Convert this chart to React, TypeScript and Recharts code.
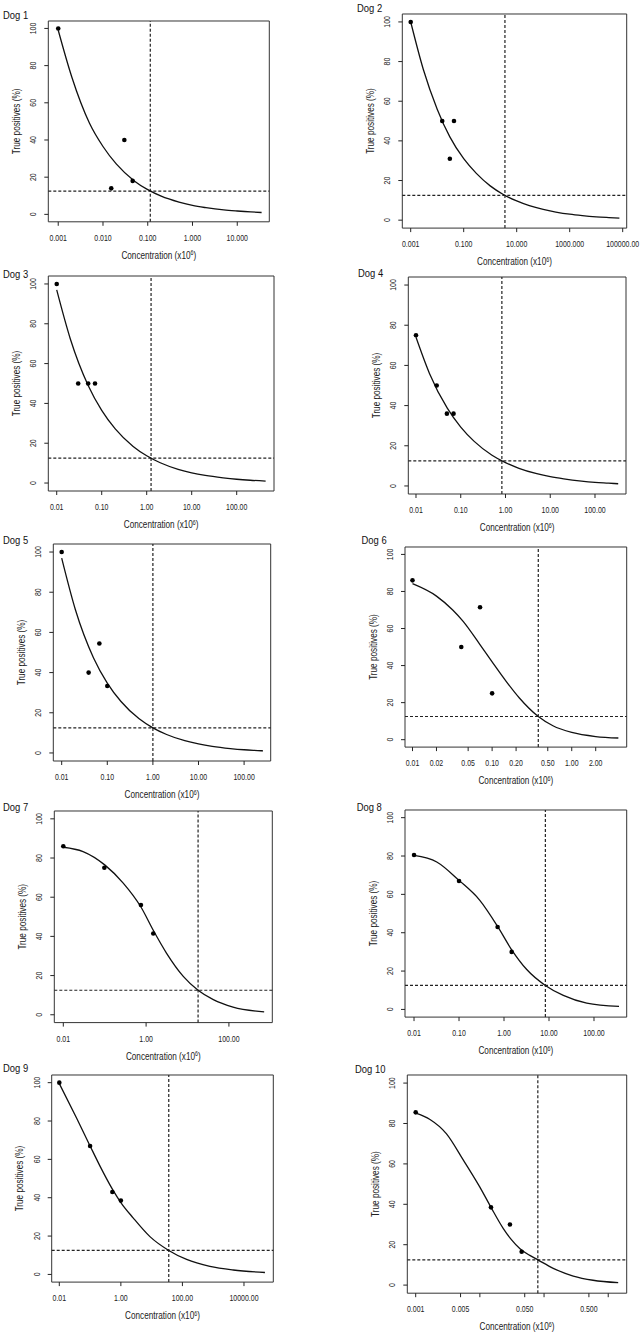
import React from 'react'
import {
  ComposedChart,
  Line,
  Scatter,
  XAxis,
  YAxis,
  ReferenceLine,
  ReferenceArea,
  Label,
} from 'recharts'

// ---- data ----
const yTicks = [0, 20, 40, 60, 80, 100]
const threshold = 12.5

const dog1Curve = [
  { x: 0.001, y: 99 }, { x: 0.002, y: 74 }, { x: 0.005, y: 49 }, { x: 0.01, y: 36.5 },
  { x: 0.02, y: 27 }, { x: 0.05, y: 18 }, { x: 0.1, y: 13.3 }, { x: 0.2, y: 9.8 },
  { x: 0.5, y: 6.6 }, { x: 1, y: 4.8 }, { x: 2, y: 3.6 }, { x: 5, y: 2.4 },
  { x: 10, y: 1.8 }, { x: 20, y: 1.3 }, { x: 35, y: 1.0 },
]
const dog1Points = [{ x: 0.001, y: 100 }, { x: 0.0153, y: 14 }, { x: 0.03, y: 40 }, { x: 0.046, y: 18 }]
const dog1Ticks = [0.001, 0.01, 0.1, 1, 10]
const dog1Labels = ['0.001', '0.010', '0.100', '1.000', '10.000']

const dog2Curve = [
  { x: 0.001, y: 100 }, { x: 0.003, y: 76 }, { x: 0.01, y: 56 }, { x: 0.03, y: 42 },
  { x: 0.1, y: 31 }, { x: 0.3, y: 23.6 }, { x: 1, y: 17.3 }, { x: 3, y: 13.1 },
  { x: 10, y: 9.7 }, { x: 30, y: 7.3 }, { x: 100, y: 5.4 }, { x: 300, y: 4.1 },
  { x: 1000, y: 3.0 }, { x: 3000, y: 2.3 }, { x: 10000, y: 1.7 }, { x: 30000, y: 1.3 },
  { x: 75000, y: 1.0 },
]
const dog2Points = [{ x: 0.001, y: 100 }, { x: 0.0155, y: 50 }, { x: 0.03, y: 31 }, { x: 0.043, y: 50 }]
const dog2Ticks = [0.001, 0.1, 10, 1000, 100000]
const dog2Labels = ['0.001', '0.100', '10.000', '1000.000', '100000.00']

const dog3Curve = [
  { x: 0.01, y: 97 }, { x: 0.02, y: 72.5 }, { x: 0.05, y: 49 }, { x: 0.1, y: 36.5 },
  { x: 0.2, y: 27.2 }, { x: 0.5, y: 18.4 }, { x: 1, y: 13.7 }, { x: 2, y: 10.2 },
  { x: 5, y: 6.9 }, { x: 10, y: 5.1 }, { x: 20, y: 3.8 }, { x: 50, y: 2.6 },
  { x: 100, y: 1.9 }, { x: 200, y: 1.4 }, { x: 440, y: 1.0 },
]
const dog3Points = [{ x: 0.01, y: 100 }, { x: 0.03, y: 50 }, { x: 0.05, y: 50 }, { x: 0.071, y: 50 }]
const decadeTicks = [0.01, 0.1, 1, 10, 100]
const decadeLabels = ['0.01', '0.10', '1.00', '10.00', '100.00']

const dog4Curve = [
  { x: 0.01, y: 74 }, { x: 0.02, y: 56 }, { x: 0.05, y: 38.7 }, { x: 0.1, y: 29.3 },
  { x: 0.2, y: 22.2 }, { x: 0.5, y: 15.3 }, { x: 1, y: 11.6 }, { x: 2, y: 8.8 },
  { x: 5, y: 6.1 }, { x: 10, y: 4.6 }, { x: 20, y: 3.5 }, { x: 50, y: 2.4 },
  { x: 100, y: 1.8 }, { x: 200, y: 1.4 }, { x: 330, y: 1.1 },
]
const dog4Points = [{ x: 0.01, y: 75 }, { x: 0.029, y: 50 }, { x: 0.049, y: 36 }, { x: 0.069, y: 36 }]

const dog5Curve = [
  { x: 0.01, y: 97 }, { x: 0.02, y: 71.3 }, { x: 0.05, y: 47.3 }, { x: 0.1, y: 34.8 },
  { x: 0.2, y: 25.6 }, { x: 0.5, y: 17 }, { x: 1, y: 12.5 }, { x: 2, y: 9.2 },
  { x: 5, y: 6.1 }, { x: 10, y: 4.5 }, { x: 20, y: 3.3 }, { x: 50, y: 2.2 },
  { x: 100, y: 1.6 }, { x: 200, y: 1.2 }, { x: 260, y: 1.05 },
]
const dog5Points = [{ x: 0.01, y: 100 }, { x: 0.039, y: 40 }, { x: 0.067, y: 54.5 }, { x: 0.1, y: 33.3 }]

const dog6Curve = [
  { x: 0.01, y: 84.2 }, { x: 0.02, y: 77.5 }, { x: 0.032, y: 70 }, { x: 0.043, y: 64 },
  { x: 0.07, y: 51.5 }, { x: 0.1, y: 42 }, { x: 0.15, y: 31.5 }, { x: 0.22, y: 22.5 },
  { x: 0.38, y: 12.5 }, { x: 0.58, y: 7.5 }, { x: 1, y: 3.9 }, { x: 2, y: 1.7 },
  { x: 3.85, y: 0.9 },
]
const dog6Points = [{ x: 0.01, y: 86 }, { x: 0.041, y: 50 }, { x: 0.0705, y: 71.5 }, { x: 0.1, y: 25 }]
const dog6Ticks = [0.01, 0.02, 0.05, 0.1, 0.2, 0.5, 1, 2]
const dog6Labels = ['0.01', '0.02', '0.05', '0.10', '0.20', '0.50', '1.00', '2.00']

const dog7Curve = [
  { x: 0.01, y: 85.5 }, { x: 0.03, y: 83.3 }, { x: 0.1, y: 76.5 }, { x: 0.28, y: 67.2 },
  { x: 0.75, y: 55 }, { x: 1.5, y: 43 }, { x: 3.1, y: 31.5 }, { x: 7.9, y: 19.6 },
  { x: 18, y: 12.5 }, { x: 42, y: 7.7 }, { x: 126, y: 3.9 }, { x: 710, y: 1.5 },
]
const dog7Points = [{ x: 0.01, y: 86 }, { x: 0.098, y: 75 }, { x: 0.75, y: 56 }, { x: 1.49, y: 41.5 }]
const dog7Ticks = [0.01, 1, 100]
const dog7Labels = ['0.01', '1.00', '100.00']

const dog8Curve = [
  { x: 0.01, y: 80.3 }, { x: 0.032, y: 76.9 }, { x: 0.1, y: 67.3 }, { x: 0.29, y: 56.9 },
  { x: 0.72, y: 43.3 }, { x: 1.48, y: 31.1 }, { x: 3.2, y: 20.8 }, { x: 8.3, y: 12.5 },
  { x: 20.8, y: 7.3 }, { x: 69, y: 3.3 }, { x: 360, y: 1.6 },
]
const dog8Points = [{ x: 0.01, y: 80.5 }, { x: 0.1, y: 67 }, { x: 0.72, y: 43 }, { x: 1.48, y: 30 }]

const dog9Curve = [
  { x: 0.01, y: 99.5 }, { x: 0.037, y: 81.3 }, { x: 0.1, y: 67 }, { x: 0.21, y: 56.5 },
  { x: 0.53, y: 44.5 }, { x: 1, y: 37.5 }, { x: 2.5, y: 29.5 }, { x: 8.8, y: 19.7 },
  { x: 36, y: 12.5 }, { x: 137, y: 7.8 }, { x: 780, y: 4.2 }, { x: 4470, y: 2.3 },
  { x: 48000, y: 1.0 },
]
const dog9Points = [{ x: 0.01, y: 100 }, { x: 0.1, y: 67 }, { x: 0.53, y: 43 }, { x: 1, y: 38.5 }]
const dog9Ticks = [0.01, 1, 100, 10000]
const dog9Labels = ['0.01', '1.00', '100.00', '10000.00']

const dog10Curve = [
  { x: 0.001, y: 85.1 }, { x: 0.00167, y: 82 }, { x: 0.003, y: 75 }, { x: 0.0055, y: 62 },
  { x: 0.01, y: 48.5 }, { x: 0.0149, y: 38.5 }, { x: 0.0232, y: 28 }, { x: 0.031, y: 22.5 },
  { x: 0.0422, y: 18 }, { x: 0.06, y: 14.7 }, { x: 0.08, y: 12.5 }, { x: 0.139, y: 8.3 },
  { x: 0.285, y: 4.5 }, { x: 0.58, y: 2.4 }, { x: 1.43, y: 1.2 },
]
const dog10Points = [{ x: 0.001, y: 85.5 }, { x: 0.0149, y: 38.5 }, { x: 0.0294, y: 30 }, { x: 0.0448, y: 16.5 }]
const dog10Ticks = [0.001, 0.005, 0.01, 0.05, 0.1, 0.5, 1]
const dog10Labels = ['0.001', '0.005', '', '0.050', '', '0.500', '']

const cutoffs = [0.114, 3.6, 1.25, 0.83, 1.0, 0.38, 18, 8.3, 36, 0.08]

// ---- layout (page pixels) ----
const FONT = '"Liberation Sans", Arial, sans-serif'
const INK = '#222'
// the figure uses a narrow face; squeeze the regular one to match
const NARROW = 0.82

const panels = [
  { name: 'Dog 1', curve: dog1Curve, points: dog1Points, ticks: dog1Ticks, labels: dog1Labels, domain: [0.0006, 52], box: [48.3, 20.9, 269.3, 221.7], col: 0, title: [3, 18.5] },
  { name: 'Dog 2', curve: dog2Curve, points: dog2Points, ticks: dog2Ticks, labels: dog2Labels, domain: [0.000482, 141600], box: [402.3, 13.8, 626.7, 227.9], col: 1, title: [357, 11.7] },
  { name: 'Dog 3', curve: dog3Curve, points: dog3Points, ticks: decadeTicks, labels: decadeLabels, domain: [0.0065, 675], box: [48.3, 276, 274, 491], col: 0, title: [3, 278] },
  { name: 'Dog 4', curve: dog4Curve, points: dog4Points, ticks: decadeTicks, labels: decadeLabels, domain: [0.00673, 493], box: [408.3, 277.3, 626, 494.3], col: 1, title: [358, 277.3] },
  { name: 'Dog 5', curve: dog5Curve, points: dog5Points, ticks: decadeTicks, labels: decadeLabels, domain: [0.00655, 383], box: [53.3, 543.7, 270.7, 760.7], col: 0, title: [3, 544.3] },
  { name: 'Dog 6', curve: dog6Curve, points: dog6Points, ticks: dog6Ticks, labels: dog6Labels, domain: [0.00805, 4.9], box: [405, 546.6, 626.7, 746.7], col: 1, title: [361.5, 544.3] },
  { name: 'Dog 7', curve: dog7Curve, points: dog7Points, ticks: dog7Ticks, labels: dog7Labels, domain: [0.00606, 1117], box: [54.3, 811.2, 272.3, 1022.8], col: 0, title: [3, 810.7] },
  { name: 'Dog 8', curve: dog8Curve, points: dog8Points, ticks: decadeTicks, labels: decadeLabels, domain: [0.0063, 533], box: [405, 809.6, 626.7, 1016.7], col: 1, title: [356.7, 810.7] },
  { name: 'Dog 9', curve: dog9Curve, points: dog9Points, ticks: dog9Ticks, labels: dog9Labels, domain: [0.00566, 89700], box: [51.7, 1075.3, 273.3, 1282.4], col: 0, title: [3, 1072] },
  { name: 'Dog 10', curve: dog10Curve, points: dog10Points, ticks: dog10Ticks, labels: dog10Labels, domain: [0.00074, 1.94], box: [407.3, 1074.9, 626.7, 1293.1], col: 1, title: [355, 1073] },
]

const TOP = 20
const BOTTOM = 45
const AXIS_W = 30
const AXIS_H = 30

function Dot(props: any) {
  return <circle cx={props.cx} cy={props.cy} r={2.3} fill="#000" />
}

function DogPanel({ panel, cutoff }: { panel: any; cutoff: number }) {
  const [l, t, r, b] = panel.box
  const left = panel.col * 320
  const top = t - TOP
  const height = b - t + TOP + BOTTOM
  const margin = {
    top: TOP,
    bottom: BOTTOM - AXIS_H,
    left: l - left - AXIS_W,
    right: left + 320 - r,
  }

  const xTick = (p: any) => (
    <text
      transform={`translate(${p.x},${p.y + 13}) scale(${NARROW},1)`}
      textAnchor="middle"
      fontSize={8.5}
      fontFamily={FONT}
      fill={INK}
    >
      {panel.labels[p.index]}
    </text>
  )
  const yTick = (p: any) => (
    <text
      transform={`translate(${p.x - 6},${p.y}) rotate(-90) scale(${NARROW},1)`}
      textAnchor="middle"
      fontSize={8.5}
      fontFamily={FONT}
      fill={INK}
    >
      {p.payload.value}
    </text>
  )

  return (
    <div style={{ position: 'absolute', left, top }}>
      <ComposedChart width={320} height={height} margin={margin} data={panel.curve}>
        <XAxis
          type="number"
          dataKey="x"
          scale="log"
          domain={panel.domain}
          allowDataOverflow
          ticks={panel.ticks}
          interval={0}
          tick={xTick}
          tickSize={4}
          tickMargin={2}
          tickLine={{ stroke: INK }}
          axisLine={false}
          height={AXIS_H}
        >
          <Label
            content={(p: any) => (
              <text
                transform={`translate(${p.viewBox.x + p.viewBox.width / 2},${p.viewBox.y + 37}) scale(${NARROW},1)`}
                textAnchor="middle"
                fontSize={10}
                fontFamily={FONT}
                fill={INK}
              >
                Concentration (x10<tspan dy={-3.5} fontSize={6.5}>6</tspan><tspan dy={3.5}>)</tspan>
              </text>
            )}
          />
        </XAxis>
        <YAxis
          type="number"
          domain={[-4, 104]}
          allowDataOverflow
          ticks={yTicks}
          interval={0}
          tick={yTick}
          tickSize={4}
          tickMargin={2}
          tickLine={{ stroke: INK }}
          axisLine={false}
          width={AXIS_W}
        >
          <Label
            content={(p: any) => (
              <text
                transform={`translate(${p.viewBox.x + p.viewBox.width - 28.5},${p.viewBox.y + p.viewBox.height / 2}) rotate(-90) scale(${NARROW},1)`}
                textAnchor="middle"
                fontSize={10}
                fontFamily={FONT}
                fill={INK}
              >
                True positives (%)
              </text>
            )}
          />
        </YAxis>
        <ReferenceArea
          x1={panel.domain[0]}
          x2={panel.domain[1]}
          y1={-4}
          y2={104}
          fill="none"
          fillOpacity={0}
          stroke="#333"
          strokeWidth={1}
        />
        <ReferenceLine x={cutoff} stroke="#222" strokeWidth={1.2} strokeDasharray="3 2" />
        <ReferenceLine y={threshold} stroke="#222" strokeWidth={1.2} strokeDasharray="3 2" />
        <Line
          dataKey="y"
          type="monotone"
          dot={false}
          stroke="#111"
          strokeWidth={1.3}
          isAnimationActive={false}
        />
        <Scatter data={panel.points} dataKey="y" shape={Dot} isAnimationActive={false} />
      </ComposedChart>
    </div>
  )
}

export default function App() {
  return (
    <div
      style={{
        position: 'absolute',
        left: 0,
        top: 0,
        width: 640,
        height: 1339,
        background: '#fff',
        overflow: 'hidden',
      }}
    >
      {panels.map((p, i) => (
        <DogPanel key={p.name} panel={p} cutoff={cutoffs[i]} />
      ))}
      <svg width={640} height={1339} style={{ position: 'absolute', left: 0, top: 0, pointerEvents: 'none' }}>
        {panels.map((p) => (
          <text
            key={p.name}
            transform={`translate(${p.title[0]},${p.title[1]}) scale(${NARROW},1)`}
            fontSize={11.5}
            fontFamily={FONT}
            fill="#111"
          >
            {p.name}
          </text>
        ))}
      </svg>
    </div>
  )
}
